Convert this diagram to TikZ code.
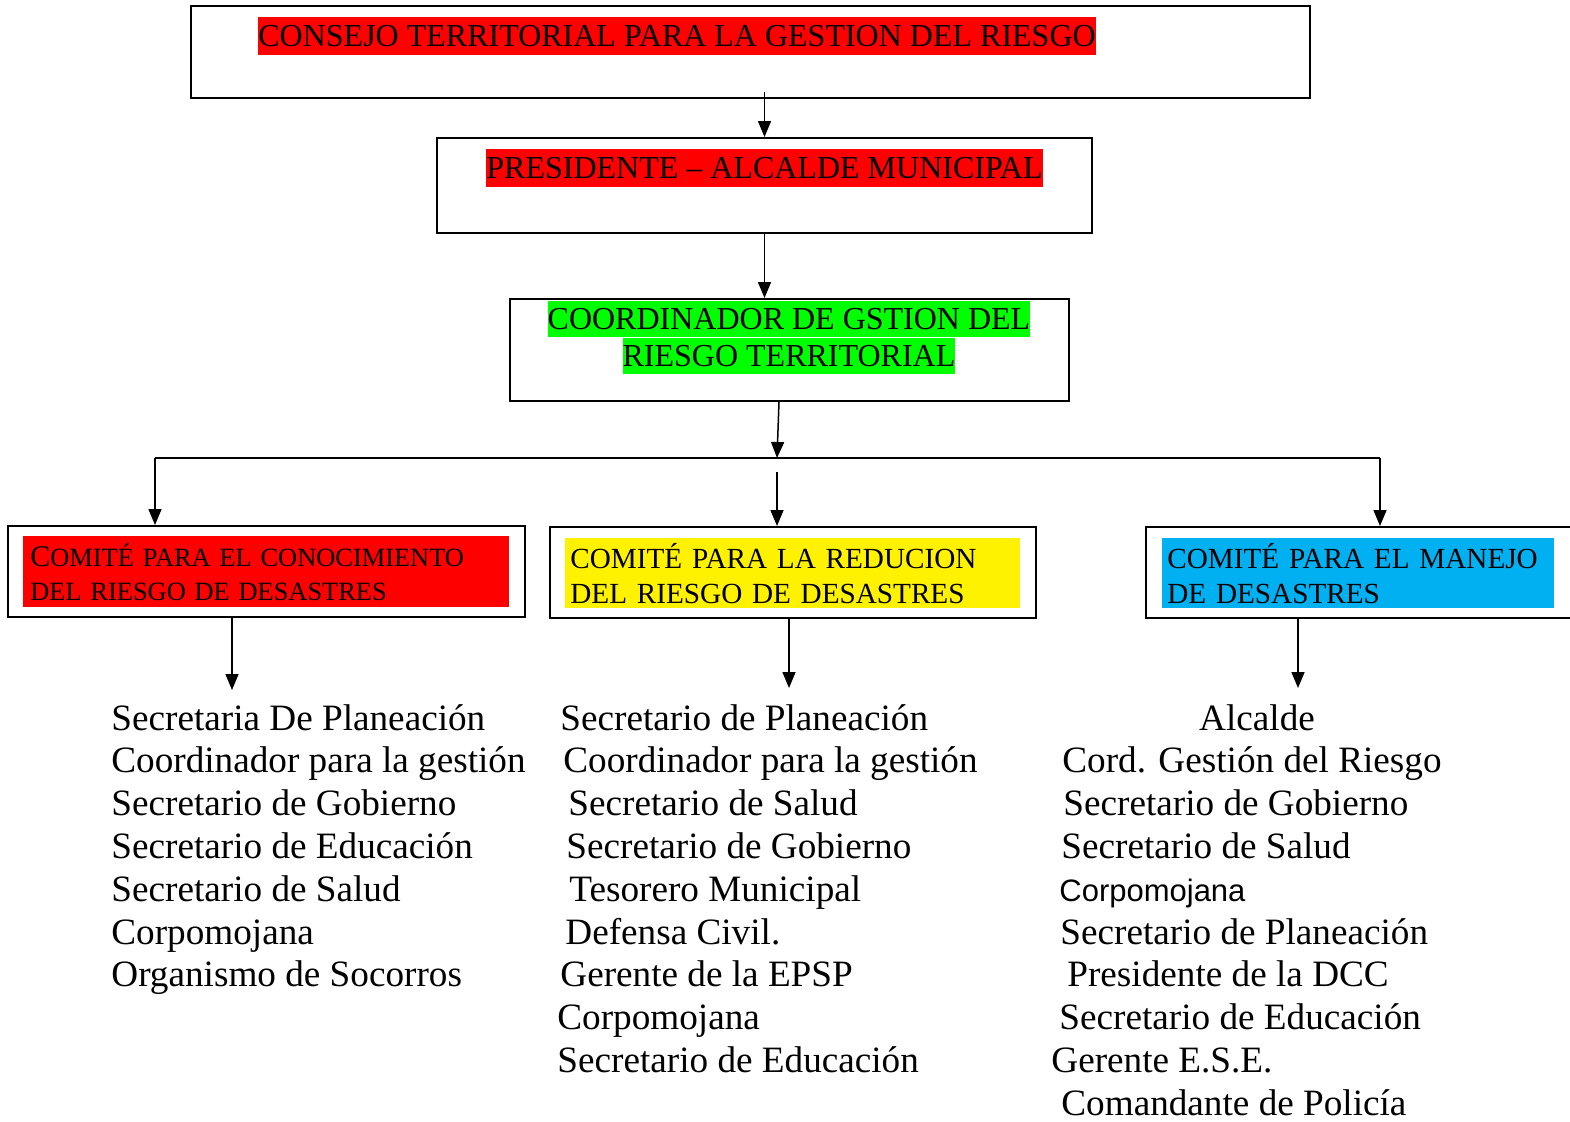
\documentclass[tikz,border=0pt]{standalone}
\usepackage{fontspec}
\setmainfont{Liberation Serif}
\newfontfamily\arialfont{Liberation Sans}
\usetikzlibrary{arrows.meta}
\definecolor{manejoblue}{RGB}{0,176,240}

\begin{document}
\begin{tikzpicture}[x=0.5pt,y=-0.5pt,
    box/.style={draw,line width=1pt,inner sep=0pt},
    arr/.style={line width=0.75pt,-{Triangle[length=8pt,width=6.5pt]}},
    title/.style={inner sep=0pt,minimum height=19pt,font=\fontsize{16}{18}\selectfont},
    comite/.style={inner ysep=0pt,align=left,anchor=north west,minimum height=35pt,font=\fontsize{14.6}{17.5}\selectfont},
    item/.style={anchor=base west,inner sep=0pt,font=\fontsize{18.6}{21.4}\selectfont}]
    \useasboundingbox (0,0) rectangle (1570,1121);

    % Boxes
    \node[box, minimum width=559.5pt, minimum height=46pt] (consejo) at (750.5,52) {};
    \node[box, minimum width=327.5pt, minimum height=47.5pt] (presidente) at (764.5,185.5) {};
    \node[box, minimum width=279.5pt, minimum height=51pt] (coordinador) at (789.5,350) {};
    \node[box, minimum width=258.5pt, minimum height=45.5pt] (conocimiento) at (266.5,571.5) {};
    \node[box, minimum width=243pt, minimum height=45.5pt] (reduccion) at (793,572.5) {};
    \node[box, minimum width=217pt, minimum height=45.5pt] (manejo) at (1363,572.5) {};

    % Highlighted titles
    \node[title, fill=red, anchor=west] (consejoT) at (258,36) {CONSEJO TERRITORIAL PARA LA GESTION DEL RIESGO};
    \node[title, fill=red] (presidenteT) at (764.5,168) {PRESIDENTE -- ALCALDE MUNICIPAL};
    \node[title, fill=green, minimum height=18pt] (coordinadorT) at (789,319) {COORDINADOR DE GSTION DEL};
    \node[title, fill=green, minimum height=18pt] (coordinadorU) at (789,356) {RIESGO TERRITORIAL};
    \node[comite, fill=red, text width=236pt, inner xsep=3.5pt, minimum height=35.5pt,
        font=\fontsize{13.2}{17}\selectfont] (conocimientoT) at (23,536)
        {{\fontsize{15}{17}\selectfont C}OMITÉ PARA EL CONOCIMIENTO\\DEL RIESGO DE DESASTRES};
    \node[comite, fill=yellow, text width=222.5pt, inner xsep=2.5pt] (reduccionT) at (565,538)
        {COMITÉ PARA LA REDUCION\\DEL RIESGO DE DESASTRES};
    \node[comite, fill=manejoblue, text width=191pt, inner xsep=2.5pt] (manejoT) at (1162,538)
        {COMITÉ PARA EL MANEJO\\DE DESASTRES};

    % Connectors
    \coordinate (split) at (777,458);
    \coordinate (splitB) at (777,472);
    \coordinate (busL) at (155,458);
    \coordinate (busR) at (1380,458);
    \coordinate (endL) at (232,690);
    \coordinate (endM) at (789,688);
    \coordinate (endR) at (1298,688);
    \draw[arr] ([yshift=3.5pt]consejo.south -| presidente) -- (presidente.north);
    \draw[arr] (presidente.south) -- (presidente.south |- coordinador.north);
    \draw[arr] ([xshift=1pt]coordinador.south -| split) -- (split);
    \draw[line width=0.75pt] (busL) -- (busR);
    \draw[arr] (busL) -- (busL |- conocimiento.north);
    \draw[arr] (splitB) -- (splitB |- reduccion.north);
    \draw[arr] (busR) -- (busR |- manejo.north);
    \draw[arr] (conocimiento.south -| endL) -- (endL);
    \draw[arr] (reduccion.south -| endM) -- (endM);
    \draw[arr] (manejo.south -| endR) -- (endR);

    % Members
    \node[item] (l1) at (111,730) {Secretaria De Planeación};
    \node[item] (l2) at (111,772.8) {Coordinador para la gestión};
    \node[item] (l3) at (111,815.6) {Secretario de Gobierno};
    \node[item] (l4) at (111,858.4) {Secretario de Educación};
    \node[item] (l5) at (111,901.2) {Secretario de Salud};
    \node[item] (l6) at (111,944) {Corpomojana};
    \node[item] (l7) at (111,986.8) {Organismo de Socorros};

    \node[item] (m1) at (560,730) {Secretario de Planeación};
    \node[item] (m2) at (563,772.8) {Coordinador para la gestión};
    \node[item] (m3) at (568,815.6) {Secretario de Salud};
    \node[item] (m4) at (566,858.4) {Secretario de Gobierno};
    \node[item] (m5) at (569,901.2) {Tesorero Municipal};
    \node[item] (m6) at (565,944) {Defensa Civil.};
    \node[item] (m7) at (560,986.8) {Gerente de la EPSP};
    \node[item] (m8) at (557,1029.6) {Corpomojana};
    \node[item] (m9) at (557,1072.4) {Secretario de Educación};

    \node[item, anchor=base] (r1) at (1257,730) {Alcalde};
    \node[item] (r2) at (1062,772.8) {Cord. Gestión del Riesgo};
    \node[item] (r3) at (1063,815.6) {Secretario de Gobierno};
    \node[item] (r4) at (1061,858.4) {Secretario de Salud};
    \node[item, font=\arialfont\fontsize{15.5}{18}\selectfont] (r5) at (1059,901.2) {Corpomojana};
    \node[item] (r6) at (1060,944) {Secretario de Planeación};
    \node[item] (r7) at (1067,986.8) {Presidente de la DCC};
    \node[item] (r8) at (1059,1029.6) {Secretario de Educación};
    \node[item] (r9) at (1051,1072.4) {Gerente E.S.E.};
    \node[item] (r10) at (1061,1115.2) {Comandante de Policía};
\end{tikzpicture}
\end{document}
